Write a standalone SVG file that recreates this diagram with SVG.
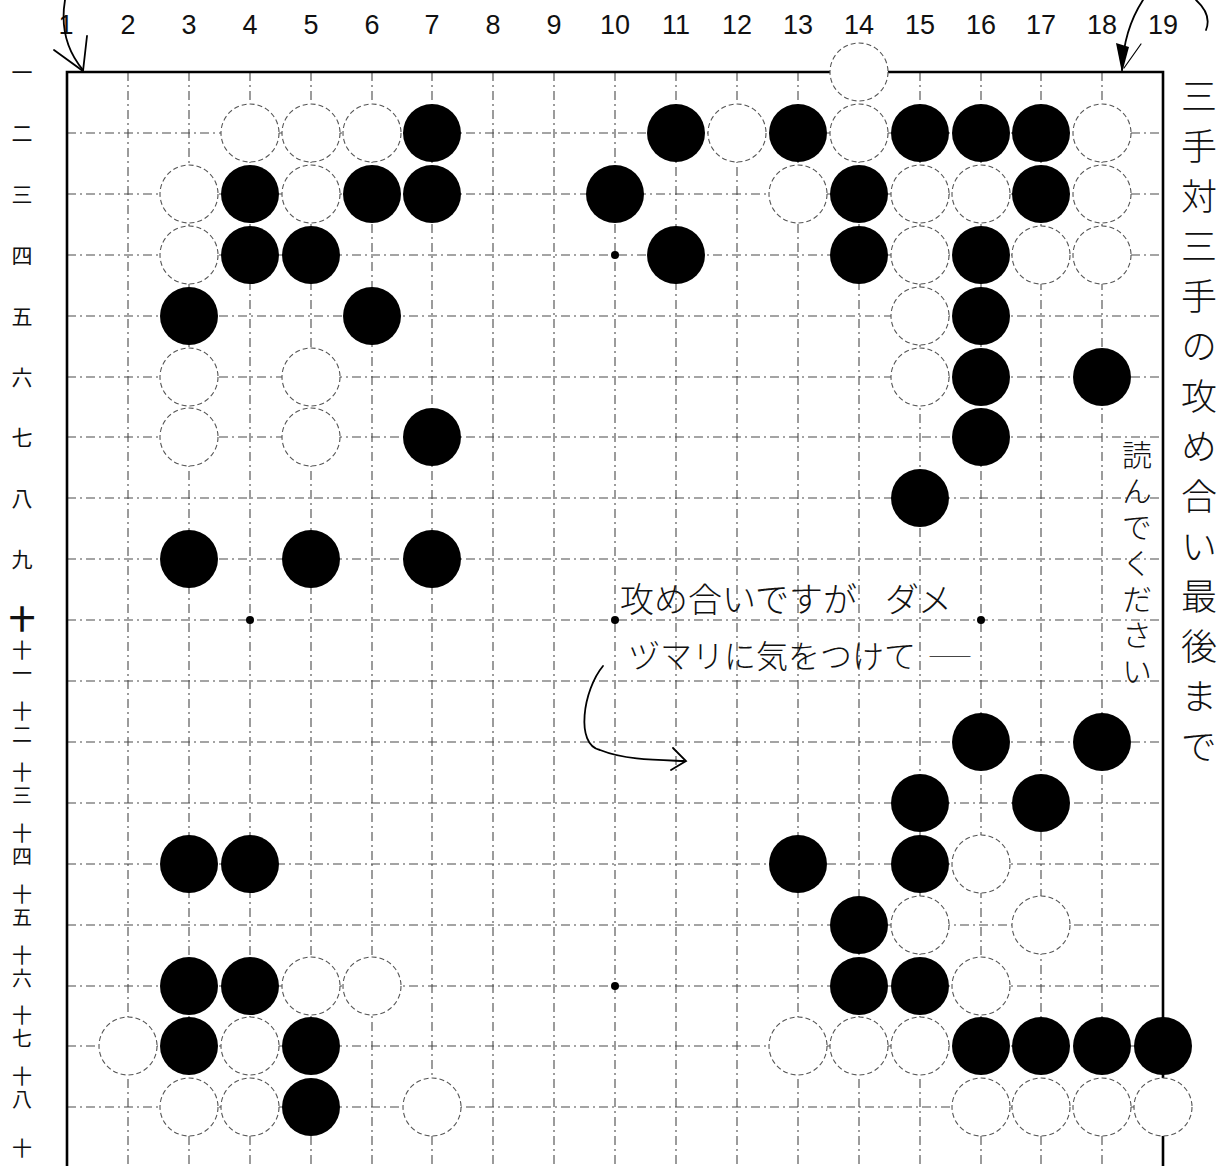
<svg xmlns="http://www.w3.org/2000/svg" width="1225" height="1166" viewBox="0 0 1225 1166">
<style>
.num{font-family:"Liberation Sans Narrow","Liberation Sans",Arial,sans-serif;font-size:27px;fill:#111;text-anchor:middle}
.kan{font-family:"Noto Sans CJK JP","Noto Sans CJK SC",sans-serif;font-size:21px;fill:#111;text-anchor:middle}
.kv{font-family:"Noto Sans CJK JP","Noto Sans CJK SC",sans-serif;font-size:20px;fill:#111;writing-mode:vertical-rl;letter-spacing:3px}
.grid{stroke:#4a4a4a;stroke-width:1.1;stroke-dasharray:9 4 2 4;fill:none}
.edge{stroke:#000;stroke-width:2.6;fill:none}
.b{fill:#000}
.w{fill:#fff;stroke:#555;stroke-width:1.1;stroke-dasharray:5 3}
.star{fill:#000}
.hand{font-family:"Noto Sans CJK JP","Noto Sans CJK SC",sans-serif;fill:#111;font-weight:300}
.pen{stroke:#000;stroke-width:1.8;fill:none;stroke-linecap:round}
</style>
<rect width="1225" height="1166" fill="#fff"/>

<g id="col-labels">
<text class="num" x="66" y="34">1</text>
<text class="num" x="128" y="34">2</text>
<text class="num" x="189" y="34">3</text>
<text class="num" x="250" y="34">4</text>
<text class="num" x="311" y="34">5</text>
<text class="num" x="372" y="34">6</text>
<text class="num" x="432" y="34">7</text>
<text class="num" x="493" y="34">8</text>
<text class="num" x="554" y="34">9</text>
<text class="num" x="615" y="34">10</text>
<text class="num" x="676" y="34">11</text>
<text class="num" x="737" y="34">12</text>
<text class="num" x="798" y="34">13</text>
<text class="num" x="859" y="34">14</text>
<text class="num" x="920" y="34">15</text>
<text class="num" x="981" y="34">16</text>
<text class="num" x="1041" y="34">17</text>
<text class="num" x="1102" y="34">18</text>
<text class="num" x="1163" y="34">19</text>
</g>

<g id="row-labels">
<text class="kan" x="22" y="80">一</text>
<text class="kan" x="22" y="141">二</text>
<text class="kan" x="22" y="202">三</text>
<text class="kan" x="22" y="263">四</text>
<text class="kan" x="22" y="324">五</text>
<text class="kan" x="22" y="385">六</text>
<text class="kan" x="22" y="445">七</text>
<text class="kan" x="22" y="506">八</text>
<text class="kan" x="22" y="567">九</text>
<text class="kan" x="22" y="629" style="font-size:26px;font-weight:bold">十</text>
<text class="kv" x="22" y="640">十一</text>
<text class="kv" x="22" y="701">十二</text>
<text class="kv" x="22" y="762">十三</text>
<text class="kv" x="22" y="823">十四</text>
<text class="kv" x="22" y="884">十五</text>
<text class="kv" x="22" y="945">十六</text>
<text class="kv" x="22" y="1005">十七</text>
<text class="kv" x="22" y="1066">十八</text>
<text class="kv" x="22" y="1138">十</text>
</g>

<g id="grid">
<path class="grid" d="M128 72V1166M189 72V1166M250 72V1166M311 72V1166M372 72V1166M432 72V1166M493 72V1166M554 72V1166M615 72V1166M676 72V1166M737 72V1166M798 72V1166M859 72V1166M920 72V1166M981 72V1166M1041 72V1166M1102 72V1166"/>
<path class="grid" d="M67 133H1163M67 194H1163M67 255H1163M67 316H1163M67 377H1163M67 437H1163M67 498H1163M67 559H1163M67 620H1163M67 681H1163M67 742H1163M67 803H1163M67 864H1163M67 925H1163M67 986H1163M67 1046H1163M67 1107H1163"/>
<path class="edge" d="M67 1166V72H1163V1166"/>
</g>

<g id="star-points">
<circle class="star" cx="615" cy="255" r="4"/>
<circle class="star" cx="250" cy="620" r="4"/>
<circle class="star" cx="615" cy="620" r="4"/>
<circle class="star" cx="981" cy="620" r="4"/>
<circle class="star" cx="615" cy="986" r="4"/>
</g>

<g id="white-stones">
<circle id="w14-1" class="w" cx="859" cy="72" r="29"/>
<circle id="w4-2" class="w" cx="250" cy="133" r="29"/>
<circle id="w5-2" class="w" cx="311" cy="133" r="29"/>
<circle id="w6-2" class="w" cx="372" cy="133" r="29"/>
<circle id="w12-2" class="w" cx="737" cy="133" r="29"/>
<circle id="w14-2" class="w" cx="859" cy="133" r="29"/>
<circle id="w18-2" class="w" cx="1102" cy="133" r="29"/>
<circle id="w3-3" class="w" cx="189" cy="194" r="29"/>
<circle id="w5-3" class="w" cx="311" cy="194" r="29"/>
<circle id="w13-3" class="w" cx="798" cy="194" r="29"/>
<circle id="w15-3" class="w" cx="920" cy="194" r="29"/>
<circle id="w16-3" class="w" cx="981" cy="194" r="29"/>
<circle id="w18-3" class="w" cx="1102" cy="194" r="29"/>
<circle id="w3-4" class="w" cx="189" cy="255" r="29"/>
<circle id="w15-4" class="w" cx="920" cy="255" r="29"/>
<circle id="w17-4" class="w" cx="1041" cy="255" r="29"/>
<circle id="w18-4" class="w" cx="1102" cy="255" r="29"/>
<circle id="w15-5" class="w" cx="920" cy="316" r="29"/>
<circle id="w3-6" class="w" cx="189" cy="377" r="29"/>
<circle id="w5-6" class="w" cx="311" cy="377" r="29"/>
<circle id="w15-6" class="w" cx="920" cy="377" r="29"/>
<circle id="w3-7" class="w" cx="189" cy="437" r="29"/>
<circle id="w5-7" class="w" cx="311" cy="437" r="29"/>
<circle id="w16-14" class="w" cx="981" cy="864" r="29"/>
<circle id="w15-15" class="w" cx="920" cy="925" r="29"/>
<circle id="w17-15" class="w" cx="1041" cy="925" r="29"/>
<circle id="w5-16" class="w" cx="311" cy="986" r="29"/>
<circle id="w6-16" class="w" cx="372" cy="986" r="29"/>
<circle id="w16-16" class="w" cx="981" cy="986" r="29"/>
<circle id="w2-17" class="w" cx="128" cy="1046" r="29"/>
<circle id="w4-17" class="w" cx="250" cy="1046" r="29"/>
<circle id="w13-17" class="w" cx="798" cy="1046" r="29"/>
<circle id="w14-17" class="w" cx="859" cy="1046" r="29"/>
<circle id="w15-17" class="w" cx="920" cy="1046" r="29"/>
<circle id="w3-18" class="w" cx="189" cy="1107" r="29"/>
<circle id="w4-18" class="w" cx="250" cy="1107" r="29"/>
<circle id="w7-18" class="w" cx="432" cy="1107" r="29"/>
<circle id="w16-18" class="w" cx="981" cy="1107" r="29"/>
<circle id="w17-18" class="w" cx="1041" cy="1107" r="29"/>
<circle id="w18-18" class="w" cx="1102" cy="1107" r="29"/>
<circle id="w19-18" class="w" cx="1163" cy="1107" r="29"/>
</g>

<g id="black-stones">
<circle id="b7-2" class="b" cx="432" cy="133" r="29"/>
<circle id="b11-2" class="b" cx="676" cy="133" r="29"/>
<circle id="b13-2" class="b" cx="798" cy="133" r="29"/>
<circle id="b15-2" class="b" cx="920" cy="133" r="29"/>
<circle id="b16-2" class="b" cx="981" cy="133" r="29"/>
<circle id="b17-2" class="b" cx="1041" cy="133" r="29"/>
<circle id="b4-3" class="b" cx="250" cy="194" r="29"/>
<circle id="b6-3" class="b" cx="372" cy="194" r="29"/>
<circle id="b7-3" class="b" cx="432" cy="194" r="29"/>
<circle id="b10-3" class="b" cx="615" cy="194" r="29"/>
<circle id="b14-3" class="b" cx="859" cy="194" r="29"/>
<circle id="b17-3" class="b" cx="1041" cy="194" r="29"/>
<circle id="b4-4" class="b" cx="250" cy="255" r="29"/>
<circle id="b5-4" class="b" cx="311" cy="255" r="29"/>
<circle id="b11-4" class="b" cx="676" cy="255" r="29"/>
<circle id="b14-4" class="b" cx="859" cy="255" r="29"/>
<circle id="b16-4" class="b" cx="981" cy="255" r="29"/>
<circle id="b3-5" class="b" cx="189" cy="316" r="29"/>
<circle id="b6-5" class="b" cx="372" cy="316" r="29"/>
<circle id="b16-5" class="b" cx="981" cy="316" r="29"/>
<circle id="b16-6" class="b" cx="981" cy="377" r="29"/>
<circle id="b18-6" class="b" cx="1102" cy="377" r="29"/>
<circle id="b7-7" class="b" cx="432" cy="437" r="29"/>
<circle id="b16-7" class="b" cx="981" cy="437" r="29"/>
<circle id="b15-8" class="b" cx="920" cy="498" r="29"/>
<circle id="b3-9" class="b" cx="189" cy="559" r="29"/>
<circle id="b5-9" class="b" cx="311" cy="559" r="29"/>
<circle id="b7-9" class="b" cx="432" cy="559" r="29"/>
<circle id="b16-12" class="b" cx="981" cy="742" r="29"/>
<circle id="b18-12" class="b" cx="1102" cy="742" r="29"/>
<circle id="b15-13" class="b" cx="920" cy="803" r="29"/>
<circle id="b17-13" class="b" cx="1041" cy="803" r="29"/>
<circle id="b3-14" class="b" cx="189" cy="864" r="29"/>
<circle id="b4-14" class="b" cx="250" cy="864" r="29"/>
<circle id="b13-14" class="b" cx="798" cy="864" r="29"/>
<circle id="b15-14" class="b" cx="920" cy="864" r="29"/>
<circle id="b14-15" class="b" cx="859" cy="925" r="29"/>
<circle id="b3-16" class="b" cx="189" cy="986" r="29"/>
<circle id="b4-16" class="b" cx="250" cy="986" r="29"/>
<circle id="b14-16" class="b" cx="859" cy="986" r="29"/>
<circle id="b15-16" class="b" cx="920" cy="986" r="29"/>
<circle id="b3-17" class="b" cx="189" cy="1046" r="29"/>
<circle id="b5-17" class="b" cx="311" cy="1046" r="29"/>
<circle id="b16-17" class="b" cx="981" cy="1046" r="29"/>
<circle id="b17-17" class="b" cx="1041" cy="1046" r="29"/>
<circle id="b18-17" class="b" cx="1102" cy="1046" r="29"/>
<circle id="b19-17" class="b" cx="1163" cy="1046" r="29"/>
<circle id="b5-18" class="b" cx="311" cy="1107" r="29"/>
</g>

<g id="notes">
<text class="hand" x="1199" y="78" style="writing-mode:vertical-rl;font-size:36px;letter-spacing:14px">三手対三手の攻め合い最後まで</text>
<text class="hand" x="1137" y="440" style="writing-mode:vertical-rl;font-size:30px;letter-spacing:6px">読んでください</text>
<text class="hand" x="620" y="612" style="font-size:34px">攻め合いですが</text>
<text class="hand" x="885" y="612" style="font-size:34px">ダメ</text>
<text class="hand" x="628" y="668" style="font-size:32px">ヅマリに気をつけて</text>
<text class="hand" x="928" y="664" style="font-size:22px">――</text>
</g>

<g id="connectors">
<path class="pen" d="M65 0C60 30 68 52 83 70"/>
<path class="pen" d="M54 50L83 71L87 36"/>
<path class="pen" d="M1143 0C1130 20 1123 45 1122 70"/>
<path d="M1122 73L1116 43L1129 47Z" fill="#000"/>
<path class="pen" d="M1124 68L1141 44" style="stroke-width:1.2"/>
<path class="pen" d="M1196 0C1207 10 1210 20 1206 30"/>
<path class="pen" d="M603 666C583 690 575 745 600 750C625 760 655 760 684 761"/>
<path class="pen" d="M673 748L686 761L671 770"/>
</g>
</svg>
